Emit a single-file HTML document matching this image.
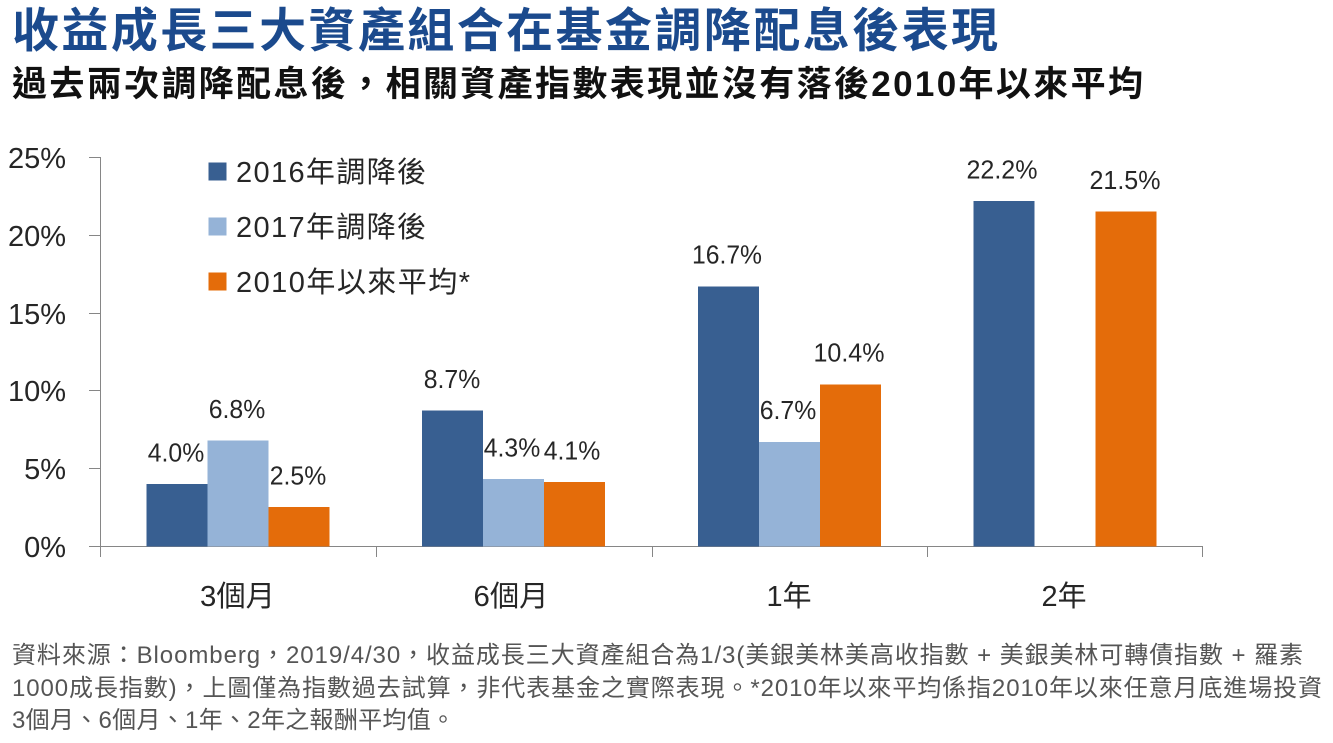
<!DOCTYPE html>
<html>
<head>
<meta charset="utf-8">
<style>
html,body{margin:0;padding:0;background:#fff;}
body{width:1333px;height:743px;overflow:hidden;}
svg{display:block;}
text{font-family:"Liberation Sans","Noto Sans CJK TC",sans-serif;}
</style>
</head>
<body>
<svg width="1333" height="743" viewBox="0 0 1333 743" xmlns="http://www.w3.org/2000/svg">
  <rect x="0" y="0" width="1333" height="743" fill="#ffffff"/>

  <!-- Title -->
  <text x="12" y="47" font-size="47" font-weight="700" fill="#1B4A8D" textLength="986" lengthAdjust="spacing">收益成長三大資產組合在基金調降配息後表現</text>
  <!-- Subtitle -->
  <text x="12" y="96" font-size="35" font-weight="700" fill="#111111" textLength="1131" lengthAdjust="spacing">過去兩次調降配息後，相關資產指數表現並沒有落後2010年以來平均</text>

  <!-- Axes -->
  <g stroke="#868686" stroke-width="1" fill="none" shape-rendering="crispEdges">
    <line x1="100.5" y1="157" x2="100.5" y2="557"/>
    <line x1="89" y1="546.5" x2="1203" y2="546.5"/>
    <line x1="89" y1="157.5" x2="100" y2="157.5"/>
    <line x1="89" y1="235.5" x2="100" y2="235.5"/>
    <line x1="89" y1="313.5" x2="100" y2="313.5"/>
    <line x1="89" y1="390.5" x2="100" y2="390.5"/>
    <line x1="89" y1="468.5" x2="100" y2="468.5"/>
    <line x1="376.5" y1="546" x2="376.5" y2="557"/>
    <line x1="652.5" y1="546" x2="652.5" y2="557"/>
    <line x1="927.5" y1="546" x2="927.5" y2="557"/>
    <line x1="1202.5" y1="546" x2="1202.5" y2="557"/>
  </g>

  <!-- Y labels -->
  <g font-size="29" fill="#262626" text-anchor="end">
    <text x="66" y="168">25%</text>
    <text x="66" y="246">20%</text>
    <text x="66" y="324">15%</text>
    <text x="66" y="401">10%</text>
    <text x="66" y="479">5%</text>
    <text x="66" y="557">0%</text>
  </g>

  <!-- Bars -->
  <g shape-rendering="crispEdges">
    <rect x="146.4" y="483.8" width="61" height="62.7" fill="#385F91"/>
    <rect x="207.4" y="440.3" width="61" height="106.2" fill="#95B3D7"/>
    <rect x="268.4" y="507.1" width="61" height="39.4" fill="#E46C0A"/>
    <rect x="422.1" y="410.7" width="61" height="135.8" fill="#385F91"/>
    <rect x="483.1" y="479.1" width="61" height="67.4" fill="#95B3D7"/>
    <rect x="544.1" y="482.2" width="61" height="64.3" fill="#E46C0A"/>
    <rect x="697.9" y="286.3" width="61" height="260.2" fill="#385F91"/>
    <rect x="758.9" y="441.8" width="61" height="104.7" fill="#95B3D7"/>
    <rect x="819.9" y="384.3" width="61" height="162.2" fill="#E46C0A"/>
    <rect x="973.6" y="200.8" width="61" height="345.7" fill="#385F91"/>
    <rect x="1095.6" y="211.7" width="61" height="334.8" fill="#E46C0A"/>
  </g>

  <!-- Value labels -->
  <g font-size="26" fill="#262626" text-anchor="middle">
    <text x="176" y="461.5" textLength="56.5" lengthAdjust="spacingAndGlyphs">4.0%</text>
    <text x="237" y="418" textLength="56.5" lengthAdjust="spacingAndGlyphs">6.8%</text>
    <text x="298" y="484.5" textLength="56.5" lengthAdjust="spacingAndGlyphs">2.5%</text>
    <text x="452" y="388" textLength="56.5" lengthAdjust="spacingAndGlyphs">8.7%</text>
    <text x="512" y="456.5" textLength="56.5" lengthAdjust="spacingAndGlyphs">4.3%</text>
    <text x="572" y="459.5" textLength="56.5" lengthAdjust="spacingAndGlyphs">4.1%</text>
    <text x="727" y="263.5" textLength="70" lengthAdjust="spacingAndGlyphs">16.7%</text>
    <text x="788" y="419" textLength="56.5" lengthAdjust="spacingAndGlyphs">6.7%</text>
    <text x="849" y="361.5" textLength="71" lengthAdjust="spacingAndGlyphs">10.4%</text>
    <text x="1002" y="178.5" textLength="71" lengthAdjust="spacingAndGlyphs">22.2%</text>
    <text x="1125" y="189" textLength="71" lengthAdjust="spacingAndGlyphs">21.5%</text>
  </g>

  <!-- X labels -->
  <g font-size="29" fill="#262626" text-anchor="middle">
    <text x="237.5" y="606" textLength="75" lengthAdjust="spacingAndGlyphs">3個月</text>
    <text x="511" y="606" textLength="75" lengthAdjust="spacingAndGlyphs">6個月</text>
    <text x="789" y="606" textLength="45" lengthAdjust="spacingAndGlyphs">1年</text>
    <text x="1064" y="606" textLength="45" lengthAdjust="spacingAndGlyphs">2年</text>
  </g>

  <!-- Legend -->
  <g shape-rendering="crispEdges">
    <rect x="208.5" y="162.5" width="18" height="18" fill="#385F91"/>
    <rect x="208.5" y="217.5" width="18" height="18" fill="#95B3D7"/>
    <rect x="208.5" y="272.5" width="18" height="18" fill="#E46C0A"/>
  </g>
  <g font-size="29" fill="#262626">
    <text x="236" y="182" textLength="190" lengthAdjust="spacing">2016年調降後</text>
    <text x="236" y="237" textLength="190" lengthAdjust="spacing">2017年調降後</text>
    <text x="236" y="292" textLength="234" lengthAdjust="spacing">2010年以來平均*</text>
  </g>

  <!-- Footnote -->
  <g font-size="24" fill="#555555">
    <text x="12" y="663" textLength="1291" lengthAdjust="spacing">資料來源：Bloomberg，2019/4/30，收益成長三大資產組合為1/3(美銀美林美高收指數 + 美銀美林可轉債指數 + 羅素</text>
    <text x="12" y="696" textLength="1310" lengthAdjust="spacing">1000成長指數)，上圖僅為指數過去試算，非代表基金之實際表現。*2010年以來平均係指2010年以來任意月底進場投資</text>
    <text x="12" y="728" textLength="443" lengthAdjust="spacing">3個月、6個月、1年、2年之報酬平均值。</text>
  </g>
</svg>
</body>
</html>
